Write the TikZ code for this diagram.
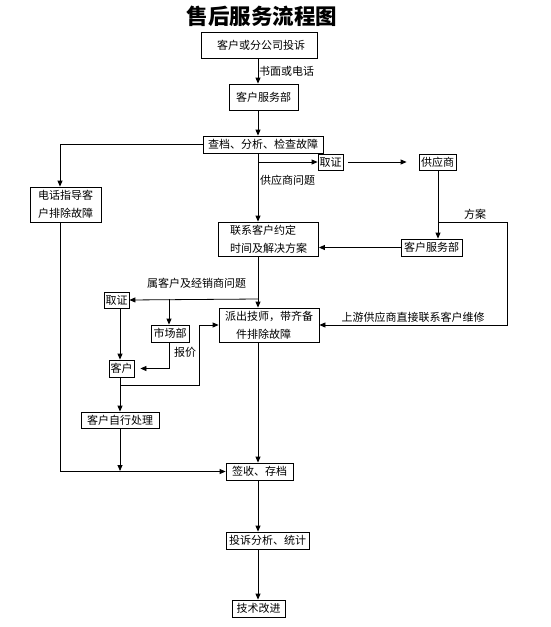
\documentclass[tikz,border=0pt]{standalone}
\usepackage{fontspec}
\setmainfont{Noto Sans CJK SC}
\usetikzlibrary{arrows.meta}
\begin{document}
\begin{tikzpicture}[x=1pt,y=-1pt,
  box/.style={draw, line width=0.8pt, inner sep=0pt, font=\fontsize{11}{18}\selectfont, anchor=center},
  lbl/.style={inner sep=0pt, font=\fontsize{11}{14}\selectfont},
  arr/.style={line width=0.8pt, -{Triangle[length=6pt,width=5pt]}},
  ln/.style={line width=0.8pt}]
\useasboundingbox (0,0) rectangle (550,627);
% column coordinates
\coordinate (xL) at (60,0);
\coordinate (xM) at (258,0);
\coordinate (xK) at (120,0);
\coordinate (xS) at (169,0);
\coordinate (xG) at (438,0);
\coordinate (xR) at (507,0);
\coordinate (xJ) at (199,0);
% title
\node[inner sep=0pt, font=\fontsize{21.5}{24}\selectfont\bfseries] (title) at (262,16) {售后服务流程图};
% boxes
\node[box, minimum width=116pt, minimum height=26pt] (b1) at (259,45) {\hspace{4pt}客户或分公司投诉};
\node[box, minimum width=69pt, minimum height=26pt] (b2) at (263.5,97) {客户服务部};
\node[box, minimum width=120pt, minimum height=17pt] (b3) at (263,144.5) {查档、分析、检查故障};
\node[box, minimum width=71pt, minimum height=35pt, align=left] (dh) at (65.5,204.5) {电话指导客\\户排除故障};
\node[box, minimum width=25pt, minimum height=16pt] (qz1) at (330.5,162) {取证};
\node[box, minimum width=37pt, minimum height=16pt] (gys) at (437.5,162) {供应商};
\node[box, minimum width=61pt, minimum height=17pt] (kf2) at (431.5,247.5) {客户服务部};
\node[box, minimum width=100pt, minimum height=34pt, align=left] (lx) at (268.5,239) {联系客户约定\\时间及解决方案};
\node[box, minimum width=100pt, minimum height=34pt, align=left] (pc) at (269,325) {派出技师，带齐备\\\hspace{11pt}件排除故障};
\node[box, minimum width=25pt, minimum height=16pt] (qz2) at (116.5,300) {取证};
\node[box, minimum width=38pt, minimum height=17pt] (scb) at (170,333.5) {市场部};
\node[box, minimum width=25pt, minimum height=17pt] (kh) at (121.5,368.5) {客户};
\node[box, minimum width=78pt, minimum height=16pt] (zx) at (120,420) {客户自行处理};
\node[box, minimum width=67pt, minimum height=17pt] (qs) at (259.5,471.5) {签收、存档};
\node[box, minimum width=83pt, minimum height=17pt] (ts) at (267.5,540.5) {投诉分析、统计};
\node[box, minimum width=53pt, minimum height=17pt] (js) at (258.5,608.5) {技术改进};
% labels
\node[lbl, anchor=west] (l1) at (259,71) {书面或电话};
\node[lbl, anchor=west] (l2) at (260,180) {供应商问题};
\node[lbl] (l3) at (475,214) {方案};
\node[lbl] (l4) at (413,317) {上游供应商直接联系客户维修};
\node[lbl] (l5) at (196.5,283) {属客户及经销商问题};
\node[lbl] (l6) at (185,352) {报价};
% junction coordinates
\coordinate (fa) at (438,222);
\coordinate (br) at (258,299);
\coordinate (kj) at (120,385);
\coordinate (bot) at (120,471);
% connectors
\draw[arr] (b1.south -| xM) -- (b2.north -| xM);
\draw[arr] (b2.south -| xM) -- (b3.north -| xM);
\draw[arr] (b3.west) -| (dh.north -| xL);
\draw[arr] (b3.south -| xM) -- (lx.north -| xM);
\draw[arr] (qz1.west -| xM) -- (qz1.west);
\draw[arr, shorten <=5pt, shorten >=12pt] (qz1.east) -- (gys.west);
\draw[arr] (gys.south -| xG) -- (kf2.north -| xG);
\draw[arr] (fa) -| (pc.east -| xR) -- (pc.east);
\draw[arr] (kf2.west) -- (kf2.west -| lx.east);
\draw[arr] (lx.south -| xM) -- (pc.north -| xM);
\draw[arr] (br) -- (qz2.east);
\draw[arr] (br -| xS) -- (scb.north -| xS);
\draw[arr] (qz2.south -| xK) -- (kh.north -| xK);
\draw[arr, shorten >=6pt] (scb.south -| xS) |- (kh.east);
\draw[arr] (kh.south -| xK) -- (zx.north -| xK);
\draw[arr] (kj) -| (pc.west -| xJ) -- (pc.west);
\draw[arr] (zx.south -| xK) -- (bot);
\draw[arr] (dh.south -| xL) |- (qs.west);
\draw[arr] (pc.south -| xM) -- (qs.north -| xM);
\draw[arr] (qs.south -| xM) -- (ts.north -| xM);
\draw[arr] (ts.south -| xM) -- (js.north -| xM);
\end{tikzpicture}
\end{document}
